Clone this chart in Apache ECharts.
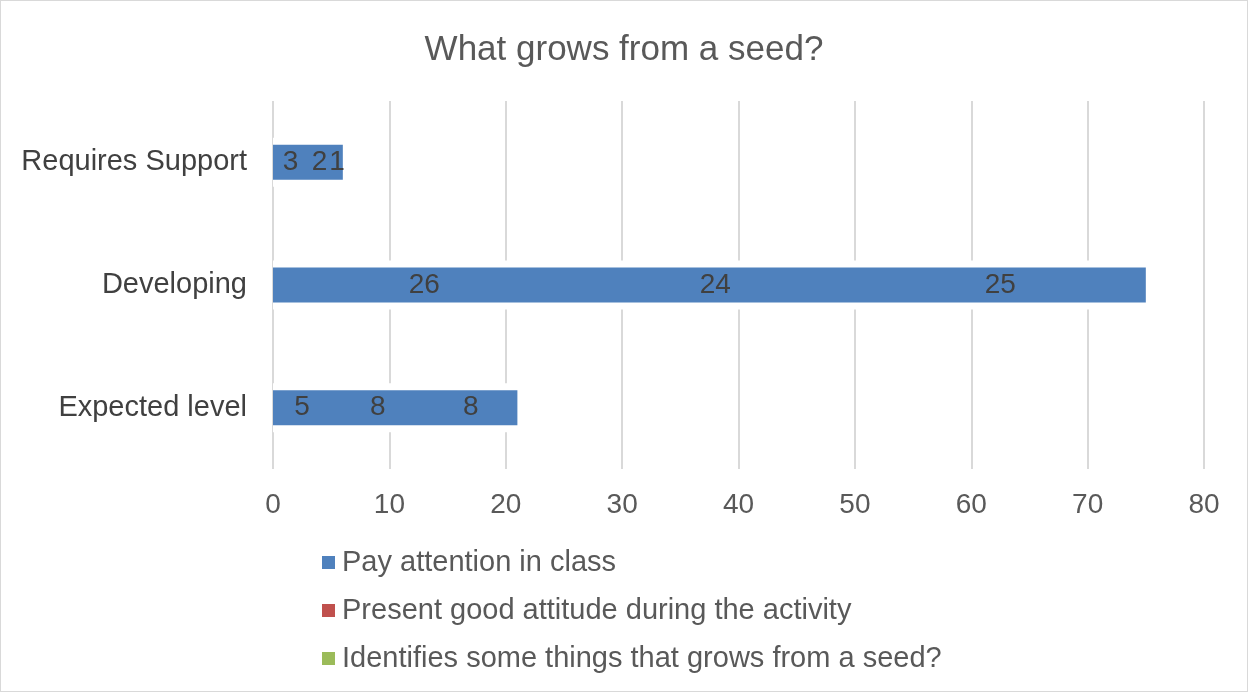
<!DOCTYPE html>
<html><head><meta charset="utf-8">
<script src="https://cdn.jsdelivr.net/npm/echarts@6/dist/echarts.min.js"></script>
<style>
html,body{margin:0;padding:0;background:#fff;}
#c{width:1246px;height:690px;border:1px solid #d9d9d9;}
</style></head>
<body><div id="c"></div>
<script>
const categories = ['Expected level', 'Developing', 'Requires Support'];
const seriesNames = ['Pay attention in class', 'Present good attitude during the activity', 'Identifies some things that grows from a seed?'];
const payAttention = [5, 26, 3];
const goodAttitude = [8, 24, 2];
const identifies = [8, 25, 1];
const xTicks = [0, 10, 20, 30, 40, 50, 60, 70, 80];
const legendColors = ['#4f81bd', '#c0504d', '#9bbb59'];

const totals = categories.map((_, i) => payAttention[i] + goodAttitude[i] + identifies[i]);

const chart = echarts.init(document.getElementById('c'));
const font = 'Liberation Sans, Arial, sans-serif';
const mk = (name, data) => ({
  name, type: 'bar', stack: 'total', yAxisIndex: 2, data, barWidth: 35, z: 3,
  itemStyle: { color: 'rgba(0,0,0,0)' },
  label: { show: true, position: 'inside', color: '#404040', fontSize: 28, fontFamily: font },
  emphasis: { disabled: true }
});
chart.setOption({
  animation: false,
  title: { text: 'What grows from a seed?', left: 'center', top: 27,
    textStyle: { color: '#595959', fontSize: 35, fontWeight: 'normal', fontFamily: font } },
  legend: {
    orient: 'vertical', left: 316, top: 542, itemGap: 19, itemWidth: 13, itemHeight: 13,
    icon: 'rect', selectedMode: false,
    textStyle: { color: '#595959', fontSize: 29, fontFamily: font, padding: [0, 0, 0, 2] },
    data: seriesNames.map((n, i) => ({ name: n, itemStyle: { color: legendColors[i], borderWidth: 0 } }))
  },
  grid: { left: 272, right: 43, top: 100, height: 368, containLabel: false },
  xAxis: {
    type: 'value', min: xTicks[0], max: xTicks[xTicks.length - 1], interval: 10,
    axisLine: { show: false }, axisTick: { show: false },
    splitLine: { lineStyle: { color: '#d9d9d9', width: 2 } },
    axisLabel: { color: '#595959', fontSize: 28, fontFamily: font, margin: 22 }
  },
  yAxis: [{
    type: 'category', data: categories,
    axisLine: { show: false }, axisTick: { show: false },
    axisLabel: { color: '#404040', fontSize: 29, fontFamily: font, margin: 26 }
  }, {
    type: 'category', data: categories, show: false
  }, {
    type: 'category', data: categories, show: false
  }],
  series: [
    { name: 'backing', type: 'bar', yAxisIndex: 0, data: totals, barWidth: 49, z: 1, silent: true,
      itemStyle: { color: '#ffffff' }, label: { show: false }, emphasis: { disabled: true } },
    { name: 'total', type: 'bar', yAxisIndex: 1, data: totals, barWidth: 35, z: 2, silent: true,
      itemStyle: { color: '#4f81bd' }, label: { show: false }, emphasis: { disabled: true } },
    mk(seriesNames[0], payAttention), mk(seriesNames[1], goodAttitude), mk(seriesNames[2], identifies)
  ]
});
</script></body></html>
